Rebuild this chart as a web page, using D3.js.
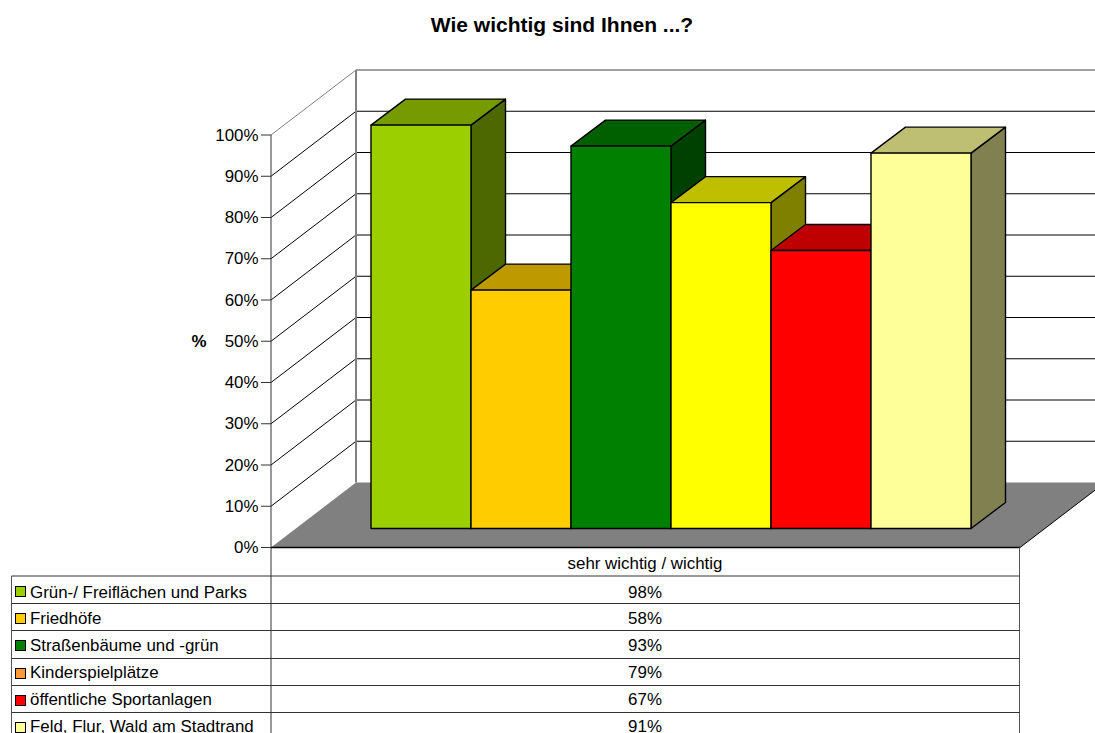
<!DOCTYPE html>
<html><head><meta charset="utf-8">
<script src="https://cdn.jsdelivr.net/npm/d3@7"></script>
<style>html,body{margin:0;padding:0;background:#fff;overflow:hidden}svg{display:block}text{font-family:"Liberation Sans",Arial,sans-serif;fill:#000}</style>
</head><body><div id="c"></div>
<script>
const categories=["Grün-/ Freiflächen und Parks","Friedhöfe","Straßenbäume und -grün","Kinderspielplätze","öffentliche Sportanlagen","Feld, Flur, Wald am Stadtrand"];
const values=[97.8,57.8,92.7,79,67.4,91];
const frontColors=["#9CCF00","#FFCC00","#008000","#FFFF00","#FF0000","#FFFF99"];
const topColors=["#759B00","#BF9900","#006000","#BFBF00","#BF0000","#BFBF73"];
const sideColors=["#4E6800","#806600","#004000","#808000","#800000","#808050"];
const legendColors=["#9CCF00","#FFCC00","#008000","#FF9933","#FF0000","#FFFF99"];
const yTicks=[0,10,20,30,40,50,60,70,80,90,100];
const groupLabel="sehr wichtig / wichtig";
const title="Wie wichtig sind Ihnen ...?";
const yTitle="%";

const W=1095,H=733;
const svg=d3.select("#c").append("svg").attr("width",W).attr("height",H);
const y=d3.scaleLinear().domain([0,100]).range([547.5,135]);
const xFloor=d3.scaleLinear().domain([0,1]).range([271,1020]);
const dx=85,dy=-65;
const x=d3.scaleBand().domain(categories).range([371,971]).padding(0);
const barDx=34.5,barDy=-26,barBaseShift=-19.5;
const GRAY="#808080";
const pct=d3.format(".0f");
const FS=16.9;

svg.append("text").attr("x",562).attr("y",32).attr("text-anchor","middle")
  .attr("font-size",21).attr("font-weight","bold").text(title);

const g=svg.append("g");
const wall=d3.line();
g.append("path").attr("d",wall([[xFloor(0),y(0)],[xFloor(0)+dx,y(0)+dy],[xFloor(1)+dx,y(0)+dy],[xFloor(1),y(0)]])+"Z")
  .attr("fill",GRAY).attr("stroke","none");
g.append("path").attr("d",wall([[xFloor(1)+dx,y(0)+dy],[xFloor(1),y(0)]])).attr("stroke","#000").attr("fill","none");
yTicks.filter(d=>d>0).forEach(d=>{
  const c=d===100?GRAY:"#000";
  const sw=d===100?1.5:1;
  g.append("path").attr("d",wall([[xFloor(0),y(d)],[xFloor(0)+dx,y(d)+dy]])).attr("stroke",c).attr("fill","none");
  g.append("path").attr("d",wall([[xFloor(0)+dx,y(d)+dy],[xFloor(1)+dx,y(d)+dy]])).attr("stroke",c).attr("stroke-width",sw).attr("fill","none");
});
g.append("path").attr("d",wall([[xFloor(0)+dx,y(0)+dy],[xFloor(0)+dx,y(100)+dy]])).attr("stroke",GRAY).attr("stroke-width",2).attr("fill","none");

categories.forEach((c,i)=>{
  const x0=x(c),x1=x0+x.bandwidth(),base=y(0)+barBaseShift+.5,t=y(values[i])+barBaseShift+.5;
  const bg=svg.append("g").attr("stroke","#000").attr("stroke-width",1.4).attr("stroke-linejoin","round");
  bg.append("path").attr("d",wall([[x1,t],[x1+barDx,t+barDy],[x1+barDx,base+barDy],[x1,base]])+"Z").attr("fill",sideColors[i]);
  bg.append("path").attr("d",wall([[x0,t],[x0+barDx,t+barDy],[x1+barDx,t+barDy],[x1,t]])+"Z").attr("fill",topColors[i]);
  bg.append("rect").attr("x",x0).attr("y",t).attr("width",x.bandwidth()).attr("height",base-t).attr("fill",frontColors[i]);
});

const axisG=svg.append("g");
axisG.append("path").attr("d",wall([[xFloor(0),y(100)],[xFloor(0),H]])).attr("stroke","#333").attr("fill","none");
yTicks.forEach(d=>{
  axisG.append("path").attr("d",wall([[261,y(d)],[xFloor(0),y(d)]])).attr("stroke","#333").attr("fill","none");
  svg.append("text").attr("x",258.5).attr("y",y(d)+5.5).attr("text-anchor","end").attr("font-size",FS).text(d+"%");
});
svg.append("text").attr("x",199).attr("y",347).attr("text-anchor","middle").attr("font-size",FS).attr("font-weight","bold").text(yTitle);

const rowY=d3.scaleLinear().domain([0,1]).range([576,603.2]);
const textY=d3.scaleLinear().domain([0,1]).range([597.5,624.4]);
const tableLeft=11.5,rightX=xFloor(1)-.5;
const tg=svg.append("g");
tg.append("path").attr("d",wall([[xFloor(0),y(0)],[xFloor(1),y(0)]])).attr("stroke","#000").attr("stroke-width",1.5).attr("fill","none");
tg.append("path").attr("d",wall([[rightX,y(0)],[rightX,H]])).attr("stroke","#555").attr("fill","none");
tg.append("path").attr("d",wall([[tableLeft,rowY(0)],[tableLeft,H]])).attr("stroke","#555").attr("fill","none");
tg.append("path").attr("d",wall([[tableLeft,rowY(0)],[rightX,rowY(0)]])).attr("stroke","#333").attr("fill","none");
svg.append("text").attr("x",645).attr("y",568.5).attr("text-anchor","middle").attr("font-size",FS).text(groupLabel);
categories.forEach((c,i)=>{
  const ry=rowY(i);
  tg.append("path").attr("d",wall([[tableLeft,Math.round(rowY(i+1))+.5],[rightX,Math.round(rowY(i+1))+.5]])).attr("stroke","#333").attr("fill","none");
  tg.append("rect").attr("x",15.5).attr("y",Math.round(ry)+10.5).attr("width",10).attr("height",10).attr("fill",legendColors[i]).attr("stroke","#000");
  svg.append("text").attr("x",30).attr("y",textY(i)).attr("font-size",FS).text(c);
  svg.append("text").attr("x",645).attr("y",textY(i)).attr("text-anchor","middle").attr("font-size",FS).text(pct(values[i])+"%");
});
</script></body></html>
